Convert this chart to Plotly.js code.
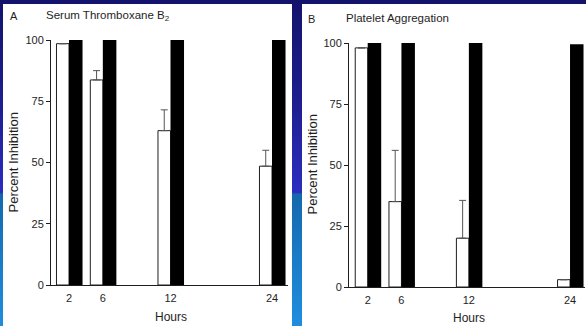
<!DOCTYPE html>
<html><head><meta charset="utf-8">
<script src="https://cdn.plot.ly/plotly-3.0.1.min.js"></script>
<style>
html,body{margin:0;padding:0;}
body{width:586px;height:326px;position:relative;overflow:hidden;
background:linear-gradient(to bottom,#13136c 0%,#1d1d8e 30%,#2c2cc0 59%,#1468ad 59.6%,#1a7cc8 80%,#1f8ddf 100%);}
.panel{position:absolute;background:#fff;}
#chart{position:absolute;left:0;top:0;width:586px;height:326px;}
</style></head><body>
<div class="panel" style="left:3px;top:4px;width:289px;height:322px"></div>
<div class="panel" style="left:302px;top:4px;width:284px;height:322px"></div>
<div id="chart"></div>
<script>
// Data
const hours = ['2', '6', '12', '24'];
// slot index of each hour on the (broken, non-linear) category axis
const hourSlot = {'2': 0, '6': 1, '12': 3, '24': 6};
const thromboxaneOpen = [98.5, 83.7, 63, 48.5];
const thromboxaneOpenErr = [null, 3.8, 8.5, 6.5];
const thromboxaneSolid = [100, 100, 100, 100];
const aggregationOpen = [98, 35, 20, 3];
const aggregationOpenErr = [null, 21, 15.5, null];
const aggregationSolid = [100, 100, 100, 99.5];
const yTicks = [0, 25, 50, 75, 100];

const W = 586, H = 326;
const px = v => v / W;
const py = v => 1 - v / H;
const font = 'Liberation Sans, Arial, Helvetica, sans-serif';
const ink = '#1e1e1e';
const xs = hours.map(h => hourSlot[h]);

function openTrace(vals, errs, xa, ya) {
  return {
    type: 'bar', x: xs, y: vals, xaxis: xa, yaxis: ya,
    offset: -0.37, width: 0.37,
    marker: {color: '#ffffff', line: {color: ink, width: 1}},
    error_y: {type: 'data', symmetric: false, array: errs, arrayminus: errs.map(e => e == null ? null : 0),
      color: '#555', thickness: 1, width: 3.5},
    hoverinfo: 'skip', showlegend: false
  };
}
function solidTrace(vals, xa, ya) {
  return {
    type: 'bar', x: xs, y: vals, xaxis: xa, yaxis: ya,
    offset: 0, width: 0.40,
    marker: {color: '#000000', line: {width: 0}},
    hoverinfo: 'skip', showlegend: false
  };
}
function xAxis(domain, range, anchor) {
  return {domain, range, anchor, tickmode: 'array', tickvals: xs, ticktext: hours,
    showline: true, linecolor: ink, linewidth: 1, ticks: '', showgrid: false, zeroline: false,
    tickfont: {family: font, size: 11, color: ink}, ticklabelstandoff: 3, fixedrange: true};
}
function yAxis(domain, anchor) {
  return {domain, range: [0, 100], anchor, tickmode: 'array', tickvals: yTicks,
    showline: true, linecolor: ink, linewidth: 1, ticks: 'outside', ticklen: 4, tickwidth: 1, tickcolor: ink,
    showgrid: false, zeroline: false, tickfont: {family: font, size: 11, color: ink}, fixedrange: true};
}
function ann(text, x, y, size, opts) {
  return Object.assign({text, x: px(x), y: py(y), xref: 'paper', yref: 'paper', showarrow: false,
    xanchor: 'left', yanchor: 'middle', font: {family: font, size, color: ink}}, opts || {});
}

const data = [
  openTrace(thromboxaneOpen, thromboxaneOpenErr, 'x', 'y'),
  solidTrace(thromboxaneSolid, 'x', 'y'),
  openTrace(aggregationOpen, aggregationOpenErr, 'x2', 'y2'),
  solidTrace(aggregationSolid, 'x2', 'y2')
];

const layout = {
  width: W, height: H, margin: {l: 0, r: 0, t: 0, b: 0},
  paper_bgcolor: 'rgba(0,0,0,0)', plot_bgcolor: 'rgba(0,0,0,0)',
  barmode: 'overlay', showlegend: false,
  xaxis: xAxis([px(51), px(288)], [-0.532, 6.473], 'y'),
  yaxis: yAxis([py(285), py(40)], 'x'),
  xaxis2: xAxis([px(349), px(585)], [-0.555, 6.444], 'y2'),
  yaxis2: yAxis([py(287), py(43)], 'x2'),
  annotations: [
    ann('A', 8, 16, 11),
    ann('Serum Thromboxane B<sub>2</sub>', 44, 16, 11.5),
    ann('B', 306, 19, 11),
    ann('Platelet Aggregation', 344, 18, 11.5),
    ann('Percent Inhibition', 13, 162.5, 13, {textangle: -90, xanchor: 'center'}),
    ann('Percent Inhibition', 311.5, 165, 13, {textangle: -90, xanchor: 'center'}),
    ann('Hours', 171, 317, 12, {xanchor: 'center'}),
    ann('Hours', 469, 318, 12, {xanchor: 'center'})
  ]
};

Plotly.newPlot('chart', data, layout, {staticPlot: true, displayModeBar: false});
</script>
</body></html>
